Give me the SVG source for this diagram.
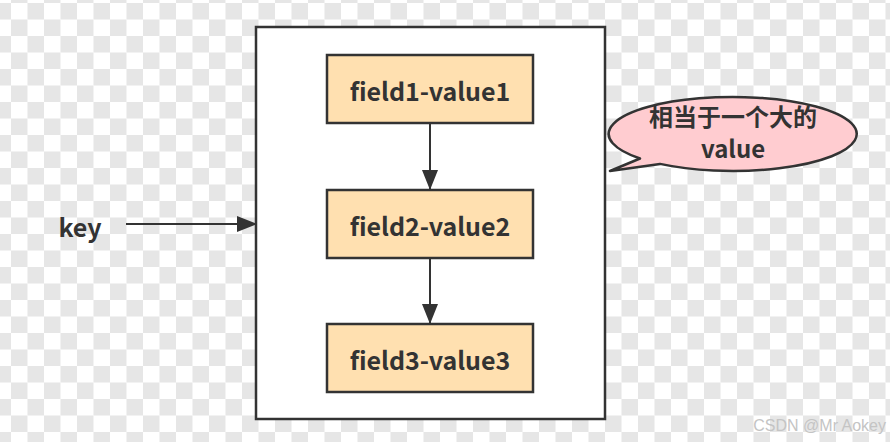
<svg xmlns="http://www.w3.org/2000/svg" width="890" height="442" viewBox="0 0 890 442">
  <style>
    .lbl { font-family: "Noto Sans CJK SC", "Noto Sans", sans-serif; font-weight: bold; fill: #333333; text-anchor: middle; }
    .field { fill: #ffe0b0; stroke: #333333; stroke-width: 2.5; }
    .conn { stroke: #333333; stroke-width: 2; fill: none; }
    .chk { stroke: #e6e6e6; stroke-width: 16.5; stroke-dasharray: 16.5 16.5; fill: none; }
  </style>
  <defs>
    <marker id="arrow" markerUnits="userSpaceOnUse" markerWidth="20" markerHeight="16" refX="19" refY="8" orient="auto">
      <path d="M0,0 L20,8 L0,16 Z" fill="#333333"/>
    </marker>
  </defs>

  <g id="background">
    <rect x="0" y="0" width="890" height="442" fill="#ffffff"/>
    <line class="chk" x1="-22" y1="-5.25" x2="900" y2="-5.25"/>
    <line class="chk" x1="-5.5" y1="11.25" x2="900" y2="11.25"/>
    <line class="chk" x1="-22" y1="27.75" x2="900" y2="27.75"/>
    <line class="chk" x1="-5.5" y1="44.25" x2="900" y2="44.25"/>
    <line class="chk" x1="-22" y1="60.75" x2="900" y2="60.75"/>
    <line class="chk" x1="-5.5" y1="77.25" x2="900" y2="77.25"/>
    <line class="chk" x1="-22" y1="93.75" x2="900" y2="93.75"/>
    <line class="chk" x1="-5.5" y1="110.25" x2="900" y2="110.25"/>
    <line class="chk" x1="-22" y1="126.75" x2="900" y2="126.75"/>
    <line class="chk" x1="-5.5" y1="143.25" x2="900" y2="143.25"/>
    <line class="chk" x1="-22" y1="159.75" x2="900" y2="159.75"/>
    <line class="chk" x1="-5.5" y1="176.25" x2="900" y2="176.25"/>
    <line class="chk" x1="-22" y1="192.75" x2="900" y2="192.75"/>
    <line class="chk" x1="-5.5" y1="209.25" x2="900" y2="209.25"/>
    <line class="chk" x1="-22" y1="225.75" x2="900" y2="225.75"/>
    <line class="chk" x1="-5.5" y1="242.25" x2="900" y2="242.25"/>
    <line class="chk" x1="-22" y1="258.75" x2="900" y2="258.75"/>
    <line class="chk" x1="-5.5" y1="275.25" x2="900" y2="275.25"/>
    <line class="chk" x1="-22" y1="291.75" x2="900" y2="291.75"/>
    <line class="chk" x1="-5.5" y1="308.25" x2="900" y2="308.25"/>
    <line class="chk" x1="-22" y1="324.75" x2="900" y2="324.75"/>
    <line class="chk" x1="-5.5" y1="341.25" x2="900" y2="341.25"/>
    <line class="chk" x1="-22" y1="357.75" x2="900" y2="357.75"/>
    <line class="chk" x1="-5.5" y1="374.25" x2="900" y2="374.25"/>
    <line class="chk" x1="-22" y1="390.75" x2="900" y2="390.75"/>
    <line class="chk" x1="-5.5" y1="407.25" x2="900" y2="407.25"/>
    <line class="chk" x1="-22" y1="423.75" x2="900" y2="423.75"/>
    <line class="chk" x1="-5.5" y1="440.25" x2="900" y2="440.25"/>
  </g>

  <g id="container">
    <rect x="256" y="27" width="349" height="392" fill="#ffffff" stroke="#333333" stroke-width="2.5"/>
  </g>

  <g id="key">
    <text class="lbl" x="80" y="237" font-size="25">key</text>
  </g>

  <g id="field1">
    <rect class="field" x="327" y="55" width="206" height="68"/>
    <text class="lbl" x="430" y="101" font-size="25">field1-value1</text>
  </g>
  <g id="field2">
    <rect class="field" x="327" y="190" width="206" height="68"/>
    <text class="lbl" x="430" y="236" font-size="25">field2-value2</text>
  </g>
  <g id="field3">
    <rect class="field" x="327" y="324" width="206" height="68"/>
    <text class="lbl" x="430" y="370" font-size="25">field3-value3</text>
  </g>

  <g id="bubble">
    <path d="M640,158.5 L610,171 L660,163.9 A124,37 0 1 0 640,158.5 Z" fill="#ffccd0" stroke="#333333" stroke-width="2.5" stroke-linejoin="round"/>
    <text class="lbl" x="733" y="126" font-size="24">相当于一个大的</text>
    <text class="lbl" x="733" y="158" font-size="24">value</text>
  </g>

  <g id="connectors">
    <line class="conn" x1="126" y1="224" x2="256" y2="224" marker-end="url(#arrow)"/>
    <line class="conn" x1="430" y1="124" x2="430" y2="189" marker-end="url(#arrow)"/>
    <line class="conn" x1="430" y1="259" x2="430" y2="323" marker-end="url(#arrow)"/>
  </g>

  <g id="watermark">
    <text x="886" y="431" font-family="Liberation Sans, Arial, sans-serif" font-size="16" fill="#c4c4c4" text-anchor="end">CSDN @Mr Aokey</text>
  </g>
</svg>
